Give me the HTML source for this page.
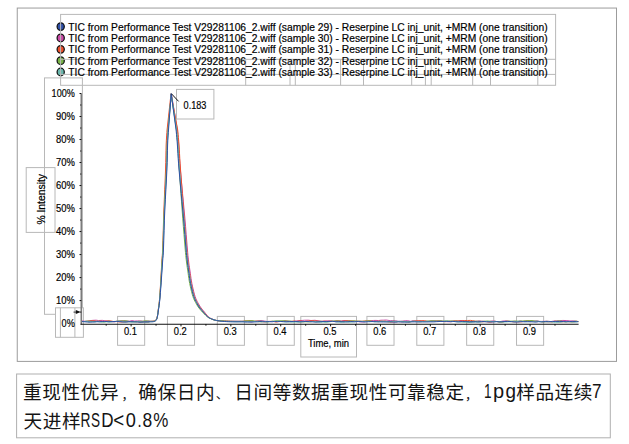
<!DOCTYPE html>
<html lang="zh"><head><meta charset="utf-8"><title>Reproducibility chart</title>
<style>
html,body{margin:0;padding:0;background:#fff;}
body{width:629px;height:444px;overflow:hidden;font-family:"Liberation Sans",sans-serif;}
svg{position:absolute;left:0;top:0;display:block;}
svg text{font-family:"Liberation Sans",sans-serif;fill:#000;stroke:#000;stroke-width:0.18px;}
.cap path{fill:#141414;}
.cap text{fill:#141414;stroke:none;font-family:"Liberation Sans","Noto Sans CJK SC",sans-serif;}
</style></head>
<body>
<svg width="629" height="444" viewBox="0 0 629 444">
<rect width="629" height="444" fill="#fff"/>
<!-- outer chart frame -->
<rect x="17.25" y="8.05" width="599.25" height="353.35" fill="none" stroke="#9c9c9c" stroke-width="1"/>
<!-- legend markers -->
<ellipse cx="60.7" cy="26.6" rx="3.6" ry="3.8" fill="#2f4fa6" stroke="#111" stroke-width="1.25"/>
<ellipse cx="60.7" cy="37.95" rx="3.6" ry="3.8" fill="#c94aa6" stroke="#111" stroke-width="1.25"/>
<ellipse cx="60.7" cy="49.3" rx="3.6" ry="3.8" fill="#ea4f2c" stroke="#111" stroke-width="1.25"/>
<ellipse cx="60.7" cy="60.65" rx="3.6" ry="3.8" fill="#78b446" stroke="#111" stroke-width="1.25"/>
<ellipse cx="60.7" cy="72" rx="3.6" ry="3.8" fill="#69b7ad" stroke="#111" stroke-width="1.25"/>
<!-- legend box and overlapping helper boxes -->
<rect x="60.6" y="14.4" width="495" height="70.9" fill="none" stroke="#b8b8b8" stroke-width="1"/>
<line x1="60.6" y1="59.3" x2="555.6" y2="59.3" stroke="#b8b8b8" stroke-width="1"/>
<line x1="60.6" y1="74.4" x2="555.6" y2="74.4" stroke="#b8b8b8" stroke-width="1"/>
<line x1="245.7" y1="59.3" x2="245.7" y2="85.3" stroke="#b8b8b8" stroke-width="1"/>
<line x1="290" y1="59.3" x2="290" y2="85.3" stroke="#b8b8b8" stroke-width="1"/>
<line x1="295.3" y1="59.3" x2="295.3" y2="85.3" stroke="#b8b8b8" stroke-width="1"/>
<line x1="340.6" y1="59.3" x2="340.6" y2="85.3" stroke="#b8b8b8" stroke-width="1"/>
<line x1="363.5" y1="59.3" x2="363.5" y2="85.3" stroke="#b8b8b8" stroke-width="1"/>
<line x1="411.7" y1="59.3" x2="411.7" y2="85.3" stroke="#b8b8b8" stroke-width="1"/>
<line x1="425.4" y1="59.3" x2="425.4" y2="85.3" stroke="#b8b8b8" stroke-width="1"/>
<line x1="431.2" y1="59.3" x2="431.2" y2="85.3" stroke="#b8b8b8" stroke-width="1"/>
<line x1="472.7" y1="59.3" x2="472.7" y2="85.3" stroke="#b8b8b8" stroke-width="1"/>
<line x1="490.5" y1="59.3" x2="490.5" y2="85.3" stroke="#b8b8b8" stroke-width="1"/>
<line x1="537.8" y1="59.3" x2="537.8" y2="85.3" stroke="#b8b8b8" stroke-width="1"/>
<!-- y axis label boxes -->
<rect x="44.5" y="77.9" width="37.9" height="236.4" fill="none" stroke="#b8b8b8" stroke-width="1"/>
<rect x="26.2" y="167.6" width="28.8" height="64.8" fill="none" stroke="#b8b8b8" stroke-width="1"/>
<rect x="55.5" y="307.8" width="27.9" height="29.5" fill="#fff" stroke="#b8b8b8" stroke-width="1"/>
<line x1="60.4" y1="307.8" x2="60.4" y2="337.3" stroke="#b8b8b8" stroke-width="1"/>
<line x1="74.9" y1="307.8" x2="74.9" y2="337.3" stroke="#b8b8b8" stroke-width="1"/>
<!-- x tick label boxes -->
<rect x="117.57" y="316.4" width="27.1" height="28.9" fill="none" stroke="#b8b8b8" stroke-width="1"/>
<rect x="167.44" y="316.4" width="27.1" height="28.9" fill="none" stroke="#b8b8b8" stroke-width="1"/>
<rect x="217.31" y="316.4" width="27.1" height="28.9" fill="none" stroke="#b8b8b8" stroke-width="1"/>
<rect x="267.18" y="316.4" width="27.1" height="28.9" fill="none" stroke="#b8b8b8" stroke-width="1"/>
<rect x="366.92" y="316.4" width="27.1" height="28.9" fill="none" stroke="#b8b8b8" stroke-width="1"/>
<rect x="416.79" y="316.4" width="27.1" height="28.9" fill="none" stroke="#b8b8b8" stroke-width="1"/>
<rect x="466.66" y="316.4" width="27.1" height="28.9" fill="none" stroke="#b8b8b8" stroke-width="1"/>
<rect x="516.53" y="316.4" width="27.1" height="28.9" fill="none" stroke="#b8b8b8" stroke-width="1"/>
<rect x="300.8" y="316.4" width="55.7" height="40.6" fill="none" stroke="#b8b8b8" stroke-width="1"/>
<rect x="176.5" y="89.4" width="37.4" height="29.6" fill="none" stroke="#b8b8b8" stroke-width="1"/>
<!-- chromatogram traces -->
<path d="M82 320.94 L84.5 321.21 L86.85 321.23 L89.78 320.66 L92.99 320.33 L96.06 320.18 L98.44 320.53 L102.3 320.36 L104.94 320.87 L109.04 321.09 L112.03 321.69 L114.32 321.88 L117.1 321.12 L119.54 320.9 L123.37 320.63 L126.73 321.03 L129.68 321.14 L132 320.62 L134.62 321.07 L137.67 320.88 L141.04 320.95 L143.84 321.39 L147.44 320.98 L150 321.15 L150.56 321.14 L151.38 321.13 L152.25 321.11 L153 321.05 L153.58 320.98 L154.09 320.89 L154.56 320.75 L155 320.55 L155.42 320.29 L155.81 319.99 L156.17 319.6 L156.5 319.06 L156.78 318.41 L157.03 317.67 L157.26 316.75 L157.49 315.59 L157.74 314.11 L157.99 312.36 L158.23 310.49 L158.48 308.64 L158.72 306.95 L158.97 305.32 L159.21 303.49 L159.47 301.2 L159.72 298.56 L159.96 295.64 L160.23 292.16 L160.54 287.8 L160.94 281.94 L161.39 274.93 L161.83 267.9 L162.2 261.99 L162.47 258.22 L162.68 255.75 L162.87 252.91 L163.1 248 L163.37 240.23 L163.66 230.62 L163.96 220.2 L164.35 210 L164.8 199.79 L165.29 189.19 L165.77 178.99 L166.15 170 L166.4 162.46 L166.54 155.94 L166.65 150.2 L166.8 145 L167.02 140.2 L167.29 135.94 L167.53 132.46 L167.7 130 L171.4 94.1 L177.4 130 L177.57 131.88 L177.82 134.44 L178.1 137.56 L178.41 141.12 L178.7 145 L178.96 149.12 L179.22 153.56 L179.49 158.44 L179.88 163.88 L180.4 170 L181.03 177.07 L181.75 185.02 L182.53 193.42 L183.33 201.89 L184.1 210 L184.88 218.11 L185.57 226.5 L186.21 234.62 L186.8 241.97 L187.3 248 L187.68 252.42 L187.98 255.57 L188.22 257.91 L188.45 259.9 L188.7 262 L188.96 264.06 L189.2 265.79 L189.44 267.39 L189.7 269.06 L190 271 L190.32 273.27 L190.65 275.72 L191.02 278.3 L191.43 280.91 L191.9 283.5 L192.45 286.16 L193.08 288.94 L193.74 291.69 L194.43 294.26 L195.1 296.5 L195.76 298.36 L196.44 299.92 L197.12 301.29 L197.8 302.55 L198.5 303.8 L199.16 304.97 L199.78 306.01 L200.43 307 L201.18 308.04 L202.1 309.2 L203.28 310.6 L204.58 312.18 L205.77 313.78 L206.92 315.24 L207.94 316.4 L208.76 317.2 L209.46 317.74 L210.12 318.12 L210.81 318.44 L211.6 318.8 L212.49 319.2 L213.4 319.57 L214.39 319.92 L215.47 320.23 L216.7 320.5 L218.08 320.73 L219.61 320.91 L221.23 320.61 L222.93 320.74 L224.65 320.85 L226.44 320.95 L228.31 321.02 L230.22 321.08 L232.13 321.12 L234 321.15 L235.97 321.17 L238.06 321.17 L240.07 321.16 L241.78 321.15 L243 321.15 L245 321.18 L248.95 321.44 L251.73 321.89 L254.16 321.46 L257.88 320.9 L261.05 320.46 L264.59 321.09 L267.94 321.57 L270.76 321.61 L274.15 321.5 L277.27 321.75 L281.35 321.45 L284.88 320.79 L288.49 321.13 L292.67 321.52 L295.44 321.22 L298.98 320.61 L302.1 320.46 L304.54 320.24 L308.27 320.2 L310.97 320.5 L314.91 320.29 L318.01 320.74 L321.98 321.31 L325.9 320.97 L328.93 320.88 L332.9 321.55 L335.41 320.98 L338.07 320.74 L341.24 321.03 L343.96 320.49 L347 320.63 L350.33 321.41 L353.92 321.31 L357.35 321.45 L359.66 321.79 L363.42 321.95 L367.21 321.46 L370.21 320.85 L373.68 320.46 L376.02 320.42 L378.54 320.56 L380.85 320.22 L383.35 320.16 L386.28 320.04 L390.22 320.67 L392.72 320.59 L395.62 320.68 L398.06 321.31 L402.25 321.2 L405.42 320.68 L407.82 320.7 L410.55 321.3 L413.07 320.66 L417.17 320.91 L419.67 321.07 L421.92 321.14 L426.08 321.58 L429.67 321.1 L432.6 320.72 L436.35 320.95 L440.11 320.84 L442.75 321.35 L446.92 321.68 L450.73 321.83 L454.41 321.19 L457.65 321 L459.91 320.5 L462.67 320.5 L466.25 321.34 L469.35 321.78 L473.52 322.04 L476.45 321.31 L479.1 320.87 L481.71 321.15 L485.71 321.56 L488.87 321.56 L492.67 320.88 L496.19 321.49 L499.96 321.64 L503.11 321.03 L506.89 320.88 L510.69 321.57 L513.69 321.26 L517.78 321.48 L520.32 320.88 L522.82 321.49 L526.63 320.91 L530.49 321.6 L534 321.22 L537.3 320.74 L539.53 321.49 L543.03 321.37 L547.09 321.19 L551.04 321.56 L553.66 321.08 L556.45 320.8 L559.82 320.67 L562.86 320.44 L566.88 320.59 L569.99 320.94 L574 320.94 L578.3 321.6" fill="none" stroke="#c94aa6" stroke-width="1" stroke-linejoin="round"/>
<path d="M82 321.5 L85.26 321.53 L87.5 321.44 L90.07 320.87 L93.87 320.76 L97.01 321.36 L100.33 321.22 L103.56 321.41 L107.33 320.98 L110.65 320.91 L113.41 321.5 L116.62 321.58 L120.34 322.04 L123.43 321.93 L126.64 321.75 L130.22 321.58 L133.49 321.52 L137.57 321.75 L141.53 322.17 L144.25 321.94 L148.33 322.15 L150 321.5 L150.56 321.49 L151.38 321.48 L152.25 321.46 L153 321.4 L153.58 321.33 L154.09 321.24 L154.56 321.1 L155 320.9 L155.42 320.64 L155.81 320.34 L156.16 319.94 L156.49 319.4 L156.77 318.75 L157.01 318 L157.23 317.07 L157.46 315.91 L157.7 314.42 L157.93 312.66 L158.17 310.78 L158.4 308.92 L158.63 307.22 L158.87 305.58 L159.1 303.74 L159.34 301.43 L159.57 298.78 L159.8 295.85 L160.04 292.34 L160.32 287.95 L160.68 282.06 L161.08 275.01 L161.48 267.94 L161.81 262 L162.07 258.22 L162.28 255.75 L162.47 252.91 L162.7 248 L162.97 240.23 L163.26 230.62 L163.56 220.2 L163.91 210 L164.31 199.79 L164.76 189.19 L165.2 178.99 L165.54 170 L165.76 162.46 L165.89 155.94 L166 150.2 L166.15 145 L166.38 140.2 L166.64 135.94 L166.88 132.46 L167.05 130 L171 93.9 L177.7 130 L177.87 131.88 L178.12 134.44 L178.4 137.56 L178.71 141.12 L179 145 L179.26 149.12 L179.52 153.56 L179.79 158.44 L180.13 163.88 L180.55 170 L181.07 177.07 L181.68 185.02 L182.33 193.42 L183 201.89 L183.65 210 L184.31 218.11 L184.97 226.5 L185.61 234.62 L186.2 241.97 L186.7 248 L187.08 252.42 L187.38 255.57 L187.62 257.91 L187.85 259.9 L188.1 262 L188.36 264.06 L188.6 265.79 L188.84 267.39 L189.1 269.06 L189.4 271 L189.72 273.27 L190.05 275.72 L190.42 278.3 L190.83 280.91 L191.3 283.5 L191.85 286.16 L192.48 288.94 L193.14 291.69 L193.83 294.26 L194.5 296.5 L195.16 298.36 L195.84 299.92 L196.52 301.29 L197.2 302.55 L197.9 303.8 L198.56 304.97 L199.18 306.01 L199.83 307 L200.58 308.04 L201.5 309.2 L202.68 310.6 L204.01 312.18 L205.3 313.78 L206.54 315.24 L207.62 316.4 L208.49 317.2 L209.23 317.74 L209.91 318.12 L210.62 318.44 L211.44 318.8 L212.34 319.2 L213.28 319.57 L214.28 319.92 L215.39 320.23 L216.63 320.5 L218.03 320.73 L219.57 320.91 L221.2 320.96 L222.9 321.09 L224.64 321.2 L226.43 321.3 L228.3 321.37 L230.22 321.43 L232.13 321.47 L234 321.5 L235.97 321.52 L238.06 321.52 L240.07 321.51 L241.78 321.5 L243 321.5 L245 321.05 L248.08 320.74 L250.77 320.57 L254.3 321.33 L258.3 320.99 L261.93 321.41 L264.42 321.91 L268.55 321.39 L272.66 321.32 L275.83 321.99 L279.7 321.36 L282.76 321.44 L285.64 321.1 L288.47 321.55 L290.71 321.59 L293.79 320.97 L296.66 321.36 L299.88 320.9 L304.05 321.52 L308.2 321.03 L310.93 320.69 L314.68 320.78 L317.14 321.01 L321.17 321.61 L323.88 321.14 L327.92 321.39 L331.52 320.95 L333.84 321.42 L336.89 320.94 L340.97 321.36 L344.77 320.92 L348.68 320.66 L352.61 320.98 L355.48 321.28 L359.54 321.1 L362 321.31 L364.67 320.93 L367.2 320.65 L369.8 320.8 L372.61 321.43 L375.39 321.46 L377.95 321.29 L380.18 321.09 L382.41 321.55 L385.71 321.16 L388.86 321.83 L391.28 322.07 L394.34 321.81 L398.21 321.54 L401.42 321.75 L405.59 321.45 L409.45 321.72 L412.93 321.51 L415.82 320.97 L418.28 320.69 L421.96 320.76 L424.49 320.6 L428.37 321.45 L431.91 321.21 L434.6 321.09 L437.72 320.86 L440.81 320.87 L444.93 321.72 L448.22 321.31 L452.36 321.17 L455.27 320.72 L458.23 321.04 L461.44 320.89 L464.65 320.57 L467.38 320.5 L470.37 320.4 L472.62 320.66 L475.29 321.14 L478.54 321.6 L482.06 321.82 L486.02 321.54 L488.87 322.1 L491.37 322.1 L494.85 321.28 L498.73 321.85 L502.18 321.97 L506 321.33 L509.25 321.41 L513.12 321.82 L516.97 321.77 L520.96 321.87 L524.55 321.38 L526.81 320.99 L529.73 320.75 L533.6 321.16 L537.06 321.46 L540.62 321.47 L542.83 321.84 L546.52 321.69 L549.79 321.8 L552.12 321.95 L554.83 321.24 L557.56 321.63 L560.17 321.86 L564.32 321.69 L567.29 321.58 L570.85 321.86 L574.29 321.87 L576.64 321.28 L578.3 321.6" fill="none" stroke="#ea4f2c" stroke-width="1" stroke-linejoin="round"/>
<path d="M82 321.54 L84.81 321.5 L87.03 320.97 L89.77 321.29 L93.36 321.47 L96.14 321.41 L99.27 321.33 L101.7 321.71 L104.3 322 L108.37 321.2 L111.49 321.57 L115.63 321.4 L118.37 321.06 L122.46 320.88 L125.82 320.71 L129.07 321.43 L131.53 321.69 L134.75 321.9 L138.36 321.36 L142.35 321.32 L144.6 320.81 L147.79 320.98 L150 321.3 L150.56 321.29 L151.38 321.28 L152.25 321.26 L153 321.2 L153.58 321.13 L154.09 321.04 L154.56 320.9 L155 320.7 L155.42 320.44 L155.81 320.14 L156.17 319.74 L156.49 319.21 L156.77 318.56 L157.02 317.81 L157.24 316.89 L157.47 315.73 L157.72 314.24 L157.96 312.49 L158.2 310.62 L158.44 308.76 L158.68 307.07 L158.92 305.43 L159.16 303.59 L159.4 301.3 L159.64 298.65 L159.88 295.73 L160.14 292.24 L160.44 287.87 L160.81 281.99 L161.23 274.96 L161.65 267.91 L162.01 262 L162.27 258.22 L162.48 255.75 L162.67 252.91 L162.9 248 L163.17 240.23 L163.46 230.62 L163.76 220.2 L164.23 210 L164.76 199.79 L165.35 189.19 L165.91 178.99 L166.37 170 L166.68 162.46 L166.84 155.94 L166.95 150.2 L167.1 145 L167.32 140.2 L167.59 135.94 L167.83 132.46 L168 130 L171.3 94.4 L176.6 130 L176.77 131.88 L177.02 134.44 L177.3 137.56 L177.61 141.12 L177.9 145 L178.16 149.12 L178.42 153.56 L178.69 158.44 L178.99 163.88 L179.37 170 L179.83 177.07 L180.37 185.02 L180.95 193.42 L181.55 201.89 L182.13 210 L182.73 218.11 L183.37 226.5 L184.01 234.62 L184.6 241.97 L185.1 248 L185.48 252.42 L185.78 255.57 L186.02 257.91 L186.25 259.9 L186.5 262 L186.76 264.06 L187 265.79 L187.24 267.39 L187.5 269.06 L187.8 271 L188.12 273.27 L188.45 275.72 L188.82 278.3 L189.23 280.91 L189.7 283.5 L190.25 286.16 L190.88 288.94 L191.54 291.69 L192.23 294.26 L192.9 296.5 L193.56 298.36 L194.24 299.92 L194.92 301.29 L195.6 302.55 L196.3 303.8 L196.96 304.97 L197.58 306.01 L198.23 307 L198.98 308.04 L199.9 309.2 L201.08 310.6 L202.5 312.18 L204.05 313.78 L205.52 315.24 L206.79 316.4 L207.79 317.2 L208.61 317.74 L209.35 318.12 L210.11 318.44 L210.99 318.8 L211.96 319.2 L212.96 319.57 L214.02 319.92 L215.17 320.23 L216.46 320.5 L217.89 320.73 L219.46 320.91 L221.12 320.76 L222.84 320.89 L224.59 321 L226.4 321.1 L228.28 321.17 L230.2 321.23 L232.12 321.27 L234 321.3 L235.97 321.32 L238.06 321.32 L240.07 321.31 L241.78 321.3 L243 321.3 L245 320.94 L247.89 320.92 L251.77 320.59 L255.47 321.25 L257.91 321.7 L261.54 321.92 L264.32 321.51 L267.3 321.92 L270.68 321.5 L273.74 321.18 L276.03 320.84 L279.9 320.83 L283.97 320.79 L286.7 321.03 L289.28 321.03 L293.4 321.53 L297.22 321.56 L301.25 321.88 L304.55 321.84 L306.84 321.83 L309.95 321.84 L313.44 321.39 L315.73 321.77 L318.19 321.53 L321.08 321.23 L324.75 321.74 L327.47 321.7 L330.28 321.57 L333.26 321.12 L335.79 320.91 L339.8 321.08 L342.44 321.59 L346.63 321.41 L349.11 321.05 L351.49 321.01 L353.88 320.88 L356.59 321.14 L360.57 321.46 L363.59 321.3 L366.84 321.18 L369.72 320.79 L372.47 321.49 L374.92 321.41 L378.38 321.72 L381.01 321.3 L383.71 321.2 L386.8 321.7 L390.7 321.89 L392.94 321.16 L396.56 321.62 L399.71 321.56 L401.91 321.34 L405.96 321.65 L409.87 321.96 L412.57 321.27 L415.08 321.31 L418.64 321.75 L422.29 321.69 L426.02 321.47 L429.32 320.93 L433.09 320.83 L437.13 321.19 L439.93 320.87 L442.64 321.2 L446.23 320.86 L448.57 321.08 L451.94 321.07 L454.59 321.27 L456.81 321.09 L459.93 321.64 L463.42 321.87 L466.57 321.35 L469.26 321.79 L472.87 321.38 L475.12 321.34 L478.66 321.24 L481.38 321.44 L485.43 321.1 L487.7 321.03 L490.74 321.33 L493.34 321.62 L497.01 321.48 L499.62 321.87 L502.45 321.93 L505.11 321.37 L508.83 321.13 L512.93 321.2 L515.51 320.97 L518.54 321.28 L522.64 320.94 L525.63 320.81 L529.78 320.67 L532.08 320.52 L535.07 321.27 L539.03 321.51 L543.23 321.85 L546.09 321.29 L550.16 321.54 L552.42 321.6 L555.38 321.34 L558.24 320.99 L560.45 320.91 L563.35 321.54 L565.8 321.9 L568.41 321.48 L572.26 321.72 L575.32 321.08 L578.3 321.6" fill="none" stroke="#78b446" stroke-width="1" stroke-linejoin="round"/>
<path d="M82 321.59 L86.04 321.36 L88.97 321.87 L91.23 321.71 L95.05 321.95 L97.33 321.42 L99.66 321.92 L102.37 322.05 L106.37 321.74 L109.11 322.14 L112.55 321.73 L116.18 321.55 L118.93 321.17 L122.64 321.78 L126.11 322.14 L128.36 321.71 L131.51 322.11 L135.62 321.83 L138.32 321.71 L141.51 322.09 L144.07 322.19 L147.75 322.26 L150 321.7 L150.56 321.69 L151.38 321.68 L152.25 321.66 L153 321.6 L153.58 321.53 L154.09 321.44 L154.56 321.3 L155 321.1 L155.42 320.84 L155.81 320.54 L156.17 320.14 L156.5 319.6 L156.79 318.94 L157.03 318.19 L157.26 317.26 L157.5 316.09 L157.75 314.6 L158 312.84 L158.25 310.95 L158.5 309.08 L158.75 307.38 L158.99 305.73 L159.24 303.88 L159.5 301.57 L159.75 298.9 L160.01 295.96 L160.28 292.45 L160.6 288.05 L161 282.13 L161.46 275.05 L161.92 267.96 L162.3 262 L162.57 258.22 L162.78 255.75 L162.97 252.91 L163.2 248 L163.47 240.23 L163.76 230.62 L164.06 220.2 L164.52 210 L165.03 199.79 L165.6 189.19 L166.14 178.99 L166.58 170 L166.88 162.46 L167.04 155.94 L167.15 150.2 L167.3 145 L167.52 140.2 L167.79 135.94 L168.03 132.46 L168.2 130 L171.2 94.2 L176.4 130 L176.57 131.88 L176.82 134.44 L177.1 137.56 L177.41 141.12 L177.7 145 L177.96 149.12 L178.22 153.56 L178.49 158.44 L178.88 163.88 L179.4 170 L180.03 177.07 L180.75 185.02 L181.53 193.42 L182.33 201.89 L183.1 210 L183.88 218.11 L184.57 226.5 L185.21 234.62 L185.8 241.97 L186.3 248 L186.68 252.42 L186.98 255.57 L187.22 257.91 L187.45 259.9 L187.7 262 L187.96 264.06 L188.2 265.79 L188.44 267.39 L188.7 269.06 L189 271 L189.32 273.27 L189.65 275.72 L190.02 278.3 L190.43 280.91 L190.9 283.5 L191.45 286.16 L192.08 288.94 L192.74 291.69 L193.43 294.26 L194.1 296.5 L194.76 298.36 L195.44 299.92 L196.12 301.29 L196.8 302.55 L197.5 303.8 L198.16 304.97 L198.78 306.01 L199.43 307 L200.18 308.04 L201.1 309.2 L202.28 310.6 L203.64 312.18 L204.98 313.78 L206.29 315.24 L207.42 316.4 L208.32 317.2 L209.07 317.74 L209.77 318.12 L210.49 318.44 L211.32 318.8 L212.25 319.2 L213.2 319.57 L214.22 319.92 L215.34 320.23 L216.59 320.5 L218 320.73 L219.54 320.91 L221.18 321.16 L222.89 321.29 L224.62 321.4 L226.42 321.5 L228.3 321.57 L230.21 321.63 L232.13 321.67 L234 321.7 L235.97 321.72 L238.06 321.72 L240.07 321.71 L241.78 321.7 L243 321.7 L245 321.8 L247.86 321.59 L250.78 321.89 L253.14 321.53 L256.84 321.38 L259.17 321.11 L262.48 321.22 L266.64 321.78 L270.81 321.53 L273.18 321.24 L276.38 321.64 L279.47 321.43 L282.51 321.66 L286.05 321.9 L289.95 321.96 L292.39 322.15 L295.18 322.01 L298.12 322.08 L300.72 321.68 L303.41 321.38 L307.38 321.59 L310.23 321.55 L314.42 321.62 L317.08 321.94 L320.59 322.27 L322.99 321.99 L326.83 322.17 L330.86 321.54 L333.65 321.27 L336.23 321.89 L339.59 322.19 L342.54 322.3 L345.64 321.81 L349.39 322.16 L351.8 322.04 L355.24 321.63 L358.18 321.34 L360.79 321.28 L364.19 321.61 L366.79 321.21 L369.65 321.59 L372.22 321.47 L374.83 321.84 L378.12 321.38 L380.52 321.43 L383.83 321.68 L386.21 321.39 L389.8 321.45 L392.56 321.39 L396.67 321.36 L400 321.38 L403.04 321.85 L407.23 321.66 L409.82 321.88 L412.43 321.36 L416.44 321.44 L420.28 321.47 L424.24 321.54 L426.77 321.18 L430.07 321.54 L434.09 321.24 L437.53 321.33 L440.74 321.18 L443.51 321.43 L447.56 321.2 L450.74 321.7 L454.88 321.43 L457.33 321.95 L461.48 321.82 L463.79 322.15 L466.76 322.31 L470.2 322.33 L472.72 322.3 L475.37 321.95 L479.26 322.13 L481.83 321.68 L484.83 321.71 L487.79 321.36 L490.49 321.72 L494.48 321.3 L497.81 321.71 L500.08 322.01 L502.52 321.96 L505.82 321.96 L508.63 321.77 L512 321.67 L515.51 321.64 L518.59 321.24 L522.03 321.44 L524.7 321.79 L528.46 321.71 L531.02 321.68 L533.43 321.36 L536.49 321.14 L539.58 321.4 L541.86 321.66 L544.22 321.89 L547.98 321.81 L550.29 321.77 L553.24 322.14 L555.71 322.26 L559.91 322.22 L563.74 321.71 L567.9 321.7 L572.01 322.07 L574.54 322.16 L578.3 321.6" fill="none" stroke="#69b7ad" stroke-width="1" stroke-linejoin="round"/>
<path d="M82 321.54 L84.9 321.81 L87.42 322.04 L90.17 322.12 L92.66 321.98 L96.7 321.72 L99.42 321.76 L102.26 321.5 L104.82 321.43 L108.9 321.71 L112.89 321.55 L116.66 321.43 L119.92 321.68 L122.84 321.96 L126.15 321.93 L130.11 321.64 L134.3 321.79 L137.29 321.97 L140.02 322.19 L143.37 321.93 L147.1 321.84 L150 321.8 L150.56 321.79 L151.38 321.78 L152.25 321.76 L153 321.7 L153.58 321.63 L154.09 321.54 L154.56 321.4 L155 321.2 L155.42 320.94 L155.82 320.64 L156.18 320.24 L156.51 319.69 L156.8 319.04 L157.05 318.28 L157.28 317.36 L157.53 316.18 L157.78 314.69 L158.04 312.92 L158.3 311.03 L158.56 309.16 L158.82 307.46 L159.07 305.81 L159.33 303.95 L159.6 301.63 L159.86 298.97 L160.13 296.02 L160.42 292.5 L160.76 288.09 L161.2 282.17 L161.69 275.08 L162.18 267.97 L162.59 262 L162.87 258.22 L163.08 255.75 L163.27 252.91 L163.5 248 L163.77 240.23 L164.06 230.62 L164.36 220.2 L164.82 210 L165.33 199.79 L165.9 189.19 L166.44 178.99 L166.88 170 L167.18 162.46 L167.34 155.94 L167.45 150.2 L167.6 145 L167.82 140.2 L168.09 135.94 L168.33 132.46 L168.5 130 L171.2 93.6 L176.1 130 L176.27 131.88 L176.52 134.44 L176.8 137.56 L177.11 141.12 L177.4 145 L177.66 149.12 L177.92 153.56 L178.19 158.44 L178.58 163.88 L179.08 170 L179.7 177.07 L180.41 185.02 L181.18 193.42 L181.96 201.89 L182.72 210 L183.48 218.11 L184.17 226.5 L184.81 234.62 L185.4 241.97 L185.9 248 L186.28 252.42 L186.58 255.57 L186.82 257.91 L187.05 259.9 L187.3 262 L187.56 264.06 L187.8 265.79 L188.04 267.39 L188.3 269.06 L188.6 271 L188.92 273.27 L189.25 275.72 L189.62 278.3 L190.03 280.91 L190.5 283.5 L191.05 286.16 L191.68 288.94 L192.34 291.69 L193.03 294.26 L193.7 296.5 L194.36 298.36 L195.04 299.92 L195.72 301.29 L196.4 302.55 L197.1 303.8 L197.76 304.97 L198.38 306.01 L199.03 307 L199.78 308.04 L200.7 309.2 L201.88 310.6 L203.26 312.18 L204.67 313.78 L206.03 315.24 L207.21 316.4 L208.14 317.2 L208.92 317.74 L209.63 318.12 L210.36 318.44 L211.21 318.8 L212.15 319.2 L213.12 319.57 L214.15 319.92 L215.28 320.23 L216.54 320.5 L217.96 320.73 L219.51 320.91 L221.16 321.26 L222.87 321.39 L224.61 321.5 L226.41 321.6 L228.29 321.67 L230.21 321.73 L232.13 321.77 L234 321.8 L235.97 321.82 L238.06 321.82 L240.07 321.81 L241.78 321.8 L243 321.8 L245 321.95 L247.3 322.07 L250 322.03 L254.17 321.98 L257.7 321.79 L259.9 321.51 L262.4 321.71 L265.47 321.76 L269.46 321.56 L272.11 321.76 L274.36 321.48 L277.27 321.39 L280.18 321.41 L283.55 321.64 L286.16 321.78 L289.31 321.57 L293.38 321.52 L295.88 321.4 L299.35 321.81 L303.12 321.74 L305.85 321.48 L309.34 321.66 L312.24 321.81 L315.33 322.07 L318.99 321.8 L323 321.52 L326.26 321.59 L328.94 321.42 L332.7 321.3 L336 321.79 L338.48 321.61 L341.9 321.7 L345.38 321.93 L347.93 321.76 L350.73 321.51 L354.71 321.81 L358.34 321.51 L362.23 321.79 L365.36 321.94 L368.46 321.71 L370.88 321.59 L373.15 321.59 L376.85 321.8 L380.74 321.93 L383.47 321.9 L386.55 322.03 L389.79 321.79 L393.28 322.07 L395.91 322.18 L398.14 321.86 L400.81 321.98 L404.9 322.05 L407.76 322.16 L410.61 321.84 L414.63 321.9 L418.22 321.96 L422.37 321.87 L426.25 321.96 L430.17 321.85 L433.82 321.87 L436.63 321.66 L440.08 321.47 L444.1 321.41 L446.35 321.35 L450.41 321.46 L452.89 321.33 L455.18 321.66 L458.65 321.84 L462.32 321.56 L465.7 321.59 L469.54 321.87 L473.52 321.58 L477.45 321.93 L481.54 321.63 L484.15 321.48 L486.42 321.83 L490.25 321.9 L494.1 321.93 L496.87 321.63 L499.27 321.86 L501.88 321.73 L504.92 321.47 L507.64 321.49 L511.27 321.55 L514.11 321.94 L517.32 322.09 L520.76 321.68 L523.78 321.69 L527.53 321.65 L531.14 321.74 L533.77 321.98 L536.15 322.09 L538.69 321.66 L541.3 321.88 L545.45 321.55 L548.63 321.66 L552.43 321.53 L555.62 321.56 L559.48 321.52 L563.57 321.52 L566.2 321.77 L569.39 321.55 L572.87 321.41 L576.64 321.7 L578.3 321.6" fill="none" stroke="#2f4fa6" stroke-width="1" stroke-linejoin="round"/>
<!-- axes and ticks -->
<line x1="81.3" y1="93.5" x2="81.3" y2="324.6" stroke="#7c7c7c" stroke-width="1.6"/>
<line x1="80.2" y1="312.1" x2="81.3" y2="312.1" stroke="#111" stroke-width="1"/>
<line x1="79.5" y1="300.59" x2="81.3" y2="300.59" stroke="#111" stroke-width="1"/>
<line x1="80.2" y1="289.09" x2="81.3" y2="289.09" stroke="#111" stroke-width="1"/>
<line x1="79.5" y1="277.58" x2="81.3" y2="277.58" stroke="#111" stroke-width="1"/>
<line x1="80.2" y1="266.08" x2="81.3" y2="266.08" stroke="#111" stroke-width="1"/>
<line x1="79.5" y1="254.57" x2="81.3" y2="254.57" stroke="#111" stroke-width="1"/>
<line x1="80.2" y1="243.07" x2="81.3" y2="243.07" stroke="#111" stroke-width="1"/>
<line x1="79.5" y1="231.56" x2="81.3" y2="231.56" stroke="#111" stroke-width="1"/>
<line x1="80.2" y1="220.06" x2="81.3" y2="220.06" stroke="#111" stroke-width="1"/>
<line x1="79.5" y1="208.55" x2="81.3" y2="208.55" stroke="#111" stroke-width="1"/>
<line x1="80.2" y1="197.05" x2="81.3" y2="197.05" stroke="#111" stroke-width="1"/>
<line x1="79.5" y1="185.54" x2="81.3" y2="185.54" stroke="#111" stroke-width="1"/>
<line x1="80.2" y1="174.04" x2="81.3" y2="174.04" stroke="#111" stroke-width="1"/>
<line x1="79.5" y1="162.53" x2="81.3" y2="162.53" stroke="#111" stroke-width="1"/>
<line x1="80.2" y1="151.03" x2="81.3" y2="151.03" stroke="#111" stroke-width="1"/>
<line x1="79.5" y1="139.52" x2="81.3" y2="139.52" stroke="#111" stroke-width="1"/>
<line x1="80.2" y1="128.02" x2="81.3" y2="128.02" stroke="#111" stroke-width="1"/>
<line x1="79.5" y1="116.51" x2="81.3" y2="116.51" stroke="#111" stroke-width="1"/>
<line x1="80.2" y1="105" x2="81.3" y2="105" stroke="#111" stroke-width="1"/>
<line x1="79.5" y1="93.5" x2="81.3" y2="93.5" stroke="#111" stroke-width="1"/>
<line x1="80.5" y1="324.2" x2="578.6" y2="324.2" stroke="#111" stroke-width="1.05"/>
<line x1="106.19" y1="324" x2="106.19" y2="325.7" stroke="#111" stroke-width="1"/>
<line x1="131.12" y1="324" x2="131.12" y2="326.4" stroke="#111" stroke-width="1"/>
<line x1="156.06" y1="324" x2="156.06" y2="325.7" stroke="#111" stroke-width="1"/>
<line x1="180.99" y1="324" x2="180.99" y2="326.4" stroke="#111" stroke-width="1"/>
<line x1="205.93" y1="324" x2="205.93" y2="325.7" stroke="#111" stroke-width="1"/>
<line x1="230.86" y1="324" x2="230.86" y2="326.4" stroke="#111" stroke-width="1"/>
<line x1="255.79" y1="324" x2="255.79" y2="325.7" stroke="#111" stroke-width="1"/>
<line x1="280.73" y1="324" x2="280.73" y2="326.4" stroke="#111" stroke-width="1"/>
<line x1="305.66" y1="324" x2="305.66" y2="325.7" stroke="#111" stroke-width="1"/>
<line x1="330.6" y1="324" x2="330.6" y2="326.4" stroke="#111" stroke-width="1"/>
<line x1="355.54" y1="324" x2="355.54" y2="325.7" stroke="#111" stroke-width="1"/>
<line x1="380.47" y1="324" x2="380.47" y2="326.4" stroke="#111" stroke-width="1"/>
<line x1="405.41" y1="324" x2="405.41" y2="325.7" stroke="#111" stroke-width="1"/>
<line x1="430.34" y1="324" x2="430.34" y2="326.4" stroke="#111" stroke-width="1"/>
<line x1="455.27" y1="324" x2="455.27" y2="325.7" stroke="#111" stroke-width="1"/>
<line x1="480.21" y1="324" x2="480.21" y2="326.4" stroke="#111" stroke-width="1"/>
<line x1="505.14" y1="324" x2="505.14" y2="325.7" stroke="#111" stroke-width="1"/>
<line x1="530.08" y1="324" x2="530.08" y2="326.4" stroke="#111" stroke-width="1"/>
<line x1="555.01" y1="324" x2="555.01" y2="325.7" stroke="#111" stroke-width="1"/>
<path d="M73.5 312.1 H77" stroke="#111" stroke-width="0.8" fill="none"/><path d="M75.8 310.1 L80.8 312.1 L75.8 314.1 Z" fill="#111"/>
<line x1="171.3" y1="93.6" x2="178.6" y2="101.4" stroke="#111" stroke-width="1"/>
<!-- text -->
<text x="68.3" y="30.5" font-size="10.2" text-anchor="start" textLength="479.3" lengthAdjust="spacingAndGlyphs" >TIC from Performance Test V29281106_2.wiff (sample 29) - Reserpine LC inj_unit, +MRM (one transition)</text>
<text x="68.3" y="41.85" font-size="10.2" text-anchor="start" textLength="479.3" lengthAdjust="spacingAndGlyphs" >TIC from Performance Test V29281106_2.wiff (sample 30) - Reserpine LC inj_unit, +MRM (one transition)</text>
<text x="68.3" y="53.2" font-size="10.2" text-anchor="start" textLength="479.3" lengthAdjust="spacingAndGlyphs" >TIC from Performance Test V29281106_2.wiff (sample 31) - Reserpine LC inj_unit, +MRM (one transition)</text>
<text x="68.3" y="64.55" font-size="10.2" text-anchor="start" textLength="479.3" lengthAdjust="spacingAndGlyphs" >TIC from Performance Test V29281106_2.wiff (sample 32) - Reserpine LC inj_unit, +MRM (one transition)</text>
<text x="68.3" y="75.9" font-size="10.2" text-anchor="start" textLength="479.3" lengthAdjust="spacingAndGlyphs" >TIC from Performance Test V29281106_2.wiff (sample 33) - Reserpine LC inj_unit, +MRM (one transition)</text>
<text x="61.6" y="327.3" font-size="10.2" text-anchor="start" textLength="13.2" lengthAdjust="spacingAndGlyphs" >0%</text>
<text x="55.9" y="304.29" font-size="10.2" text-anchor="start" textLength="18.9" lengthAdjust="spacingAndGlyphs" >10%</text>
<text x="55.9" y="281.28" font-size="10.2" text-anchor="start" textLength="18.9" lengthAdjust="spacingAndGlyphs" >20%</text>
<text x="55.9" y="258.27" font-size="10.2" text-anchor="start" textLength="18.9" lengthAdjust="spacingAndGlyphs" >30%</text>
<text x="55.9" y="235.26" font-size="10.2" text-anchor="start" textLength="18.9" lengthAdjust="spacingAndGlyphs" >40%</text>
<text x="55.9" y="212.25" font-size="10.2" text-anchor="start" textLength="18.9" lengthAdjust="spacingAndGlyphs" >50%</text>
<text x="55.9" y="189.24" font-size="10.2" text-anchor="start" textLength="18.9" lengthAdjust="spacingAndGlyphs" >60%</text>
<text x="55.9" y="166.23" font-size="10.2" text-anchor="start" textLength="18.9" lengthAdjust="spacingAndGlyphs" >70%</text>
<text x="55.9" y="143.22" font-size="10.2" text-anchor="start" textLength="18.9" lengthAdjust="spacingAndGlyphs" >80%</text>
<text x="55.9" y="120.21" font-size="10.2" text-anchor="start" textLength="18.9" lengthAdjust="spacingAndGlyphs" >90%</text>
<text x="51.6" y="97.2" font-size="10.2" text-anchor="start" textLength="23.2" lengthAdjust="spacingAndGlyphs" >100%</text>
<text x="123.92" y="335" font-size="10.2" text-anchor="start" textLength="13" lengthAdjust="spacingAndGlyphs" >0.1</text>
<text x="173.79" y="335" font-size="10.2" text-anchor="start" textLength="13" lengthAdjust="spacingAndGlyphs" >0.2</text>
<text x="223.66" y="335" font-size="10.2" text-anchor="start" textLength="13" lengthAdjust="spacingAndGlyphs" >0.3</text>
<text x="273.53" y="335" font-size="10.2" text-anchor="start" textLength="13" lengthAdjust="spacingAndGlyphs" >0.4</text>
<text x="323.4" y="335" font-size="10.2" text-anchor="start" textLength="13" lengthAdjust="spacingAndGlyphs" >0.5</text>
<text x="373.27" y="335" font-size="10.2" text-anchor="start" textLength="13" lengthAdjust="spacingAndGlyphs" >0.6</text>
<text x="423.14" y="335" font-size="10.2" text-anchor="start" textLength="13" lengthAdjust="spacingAndGlyphs" >0.7</text>
<text x="473.01" y="335" font-size="10.2" text-anchor="start" textLength="13" lengthAdjust="spacingAndGlyphs" >0.8</text>
<text x="522.88" y="335" font-size="10.2" text-anchor="start" textLength="13" lengthAdjust="spacingAndGlyphs" >0.9</text>
<text x="307.9" y="346.6" font-size="10.2" text-anchor="start" textLength="41.2" lengthAdjust="spacingAndGlyphs" >Time, min</text>
<text x="183.6" y="108.9" font-size="10.2" text-anchor="start" textLength="22.8" lengthAdjust="spacingAndGlyphs" >0.183</text>
<text transform="translate(44.5,224.6) rotate(-90)" font-size="10.2" textLength="50.6" lengthAdjust="spacingAndGlyphs">% Intensity</text>
<!-- caption box -->
<rect x="16.6" y="374" width="593.7" height="63.8" fill="#fff" stroke="#b0b0b0" stroke-width="1"/>
<g class="cap" role="img" aria-label="重现性优异，确保日内、日间等数据重现性可靠稳定，1pg样品连续7天进样RSD&lt;0.8%">
<title>重现性优异，确保日内、日间等数据重现性可靠稳定，1pg样品连续7天进样RSD&lt;0.8%</title>
<text x="23.1 42.3 61.5 80.7 99.9" y="398.6" font-size="18.67">重现性优异</text>
<text x="121.39" y="398.52" font-size="12.7">，</text>
<text x="138.3 157.5 176.7 195.9" y="398.6" font-size="18.67">确保日内</text>
<text x="215.77" y="398.3" font-size="12.7">、</text>
<text x="234.3 253.5 272.7 291.9 311.1 330.3 349.5 368.7 387.9 407.1 426.3 445.5" y="398.6" font-size="18.67">日间等数据重现性可靠稳定</text>
<text x="464.99" y="398.52" font-size="12.7">，</text>
<text transform="translate(483.94,397.8) scale(0.700,1)" font-size="19.4">1</text>
<text transform="translate(493.12,397.8) scale(1.031,1)" font-size="19.4">p</text>
<text transform="translate(505.61,397.8) scale(0.974,1)" font-size="19.4">g</text>
<text x="516.2 535.4 554.6 573.8" y="398.6" font-size="18.67">样品连续</text>
<text transform="translate(591.93,397.8) scale(0.884,1)" font-size="19.4">7</text>
<text x="23.5 42.7 61.9" y="427.6" font-size="18.67">天进样</text>
<text transform="translate(80.57,426.9) scale(0.712,1)" font-size="19.4">R</text>
<text transform="translate(90.98,426.9) scale(0.700,1)" font-size="19.4">S</text>
<text transform="translate(101.3,426.9) scale(0.879,1)" font-size="19.4">D</text>
<text transform="translate(113.18,426.9) scale(0.965,1)" font-size="19.4">&lt;</text>
<text transform="translate(125.79,426.9) scale(0.938,1)" font-size="19.4">0</text>
<text transform="translate(137.56,426.9) scale(0.760,1)" font-size="19.4">.</text>
<text transform="translate(142.55,426.9) scale(0.901,1)" font-size="19.4">8</text>
<text transform="translate(153.29,426.9) scale(0.876,1)" font-size="19.4">%</text>
</g>
</svg>
</body></html>
